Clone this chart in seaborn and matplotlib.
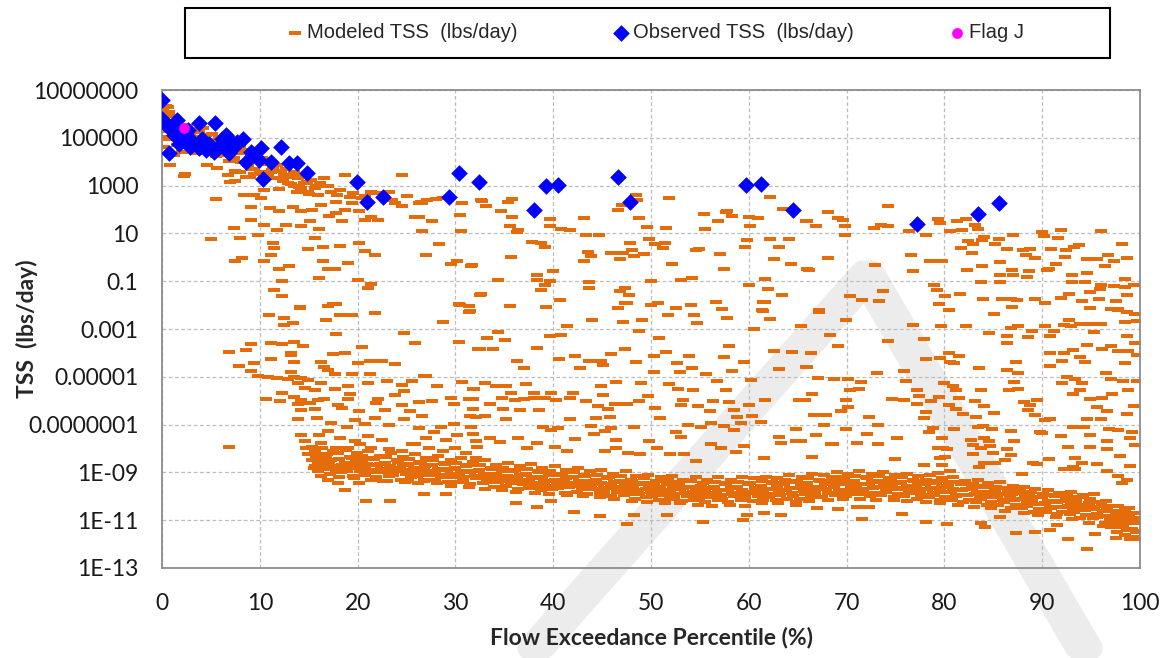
import numpy as np
import matplotlib
matplotlib.use('Agg')
import matplotlib.pyplot as plt
import seaborn as sns
from matplotlib.patches import Rectangle, PathPatch
from matplotlib.textpath import TextPath
from matplotlib.font_manager import FontProperties
from matplotlib.transforms import Affine2D

# --- values: x = flow exceedance (%), y = log10(TSS lbs/day) ---

# observed TSS (blue diamonds)
observed_pts = [
    (0.0, 6.57), (0.0, 5.8), (0.1, 5.67), (0.65, 5.46), (1.5, 5.74), (0.75, 4.35),
    (3.75, 5.64), (5.4, 5.64), (8.3, 4.94), (6.15, 4.97), (6.5, 5.1), (7.0, 4.9),
    (7.35, 4.63), (2.5, 5.1), (3.2, 4.83), (4.1, 4.97), (4.8, 4.76), (5.3, 4.42),
    (5.8, 4.63), (2.9, 4.63), (2.2, 4.97), (1.85, 5.25), (1.2, 5.1), (3.75, 4.56),
    (4.45, 4.49), (6.65, 4.56), (7.7, 4.83), (6.0, 4.76), (1.7, 4.76), (2.7, 5.32),
    (6.8, 4.35), (10.1, 4.58), (9.1, 4.42), (12.2, 4.6), (8.55, 3.97), (9.9, 4.07),
    (11.1, 4.0), (10.3, 3.26), (13.0, 3.96), (13.8, 3.96), (14.8, 3.54), (19.9, 3.13),
    (21.0, 2.33), (22.6, 2.54), (29.3, 2.54), (30.4, 3.54), (32.4, 3.17), (38.0, 1.99),
    (39.3, 2.99), (40.5, 3.03), (46.6, 3.35), (47.9, 2.33), (59.7, 3.03), (61.2, 3.07),
    (64.5, 1.99), (77.2, 1.38), (83.4, 1.8), (85.6, 2.27),
]

# flag J (magenta dot)
flag_pts = [(2.2, 5.42)]

# modeled TSS, high-flow head (0-28 %)
head_pts = [
    (0.1, 6.2), (0.4, 6.35), (0.7, 6.1), (0.2, 5.8), (0.9, 5.9), (0.3, 5.5), (1.1, 5.6),
    (0.6, 5.3), (1.4, 5.7), (0.2, 5.05), (0.8, 4.95), (0.1, 4.6), (1.6, 5.4), (1.9, 5.55),
    (2.2, 5.3), (2.6, 5.5), (2.9, 5.2), (3.2, 5.35), (3.5, 5.05), (3.8, 5.25), (4.2, 5.4),
    (4.5, 5.1), (4.8, 4.9), (5.1, 5.15), (5.4, 4.8), (5.8, 5.0), (6.1, 4.75), (6.5, 4.9),
    (6.9, 4.6), (7.2, 4.8), (7.6, 4.5), (8.0, 4.65), (8.3, 4.35), (8.7, 4.5), (9.1, 4.2),
    (9.5, 4.35), (9.8, 4.05), (10.2, 4.15), (10.6, 3.9), (11.0, 4.0), (11.4, 3.75),
    (11.8, 3.85), (12.2, 3.6), (12.7, 3.7), (13.1, 3.45), (13.5, 3.55), (13.9, 3.3),
    (14.3, 3.4), (14.8, 3.15), (15.2, 3.25), (15.7, 3.0), (16.2, 3.1), (1.5, 4.7),
    (2.4, 4.85), (3.1, 4.6), (3.9, 4.75), (4.4, 4.45), (5.2, 4.55), (6.0, 4.3), (6.7, 4.4),
    (7.4, 4.15), (8.1, 4.0), (8.8, 3.85), (9.4, 3.7), (10.0, 3.55), (10.8, 3.45),
    (11.5, 3.3), (12.4, 3.2), (13.2, 3.05), (14.0, 2.95), (1.2, 4.3), (2.0, 4.4),
    (7.5, 3.6), (9.0, 3.35), (12.0, 2.85), (13.8, 2.75), (15.0, 2.65), (16.0, 2.6),
    (11.2, 3.65), (12.9, 3.35), (14.5, 3.1), (5.5, 4.25), (6.8, 4.05), (3.5, 4.35),
    (4.6, 4.55), (17.0, 3.0), (18.2, 2.8), (19.5, 2.7), (20.8, 2.55), (22.0, 2.7),
    (23.5, 2.4), (25.0, 2.55), (26.5, 2.3), (28.0, 2.45),
]

# modeled TSS, scattered points 0-33 % above 0.01
early_pts = [
    (0.1, 6.2), (0.65, 6.3), (0.0, 5.8), (0.0, 5.05), (0.5, 4.97), (0.1, 4.6), (0.8, 3.86),
    (2.4, 3.5), (2.2, 3.4), (5.5, 2.43), (4.6, 3.86), (5.6, 3.72), (6.7, 3.44), (7.0, 3.17),
    (7.5, 3.2), (8.0, 3.58), (8.6, 3.37), (9.1, 3.7), (9.4, 3.5), (8.4, 2.6), (9.4, 2.6),
    (10.1, 2.47), (10.4, 2.8), (11.1, 3.58), (11.8, 3.3), (12.5, 3.44), (12.9, 3.1),
    (13.5, 3.0), (14.2, 2.9), (14.9, 2.75), (15.6, 2.9), (16.3, 3.0), (16.6, 3.3),
    (17.3, 2.75), (17.9, 2.6), (18.7, 3.44), (17.8, 2.33), (19.2, 2.54), (19.4, 2.26),
    (20.4, 2.47), (21.4, 2.75), (23.2, 2.75), (23.8, 2.26), (24.5, 3.44), (24.5, 2.13),
    (26.3, 2.26), (27.1, 2.4), (26.3, 1.7), (27.6, 1.5), (28.7, 2.47), (30.7, 2.26),
    (32.6, 2.4), (9.1, 1.57), (7.4, 1.22), (5.0, 0.76), (8.0, 0.8), (8.2, -0.03),
    (7.5, -0.17), (9.1, 2.1), (11.0, 2.06), (12.0, 1.92), (10.4, 1.36), (9.8, 0.94),
    (11.8, 1.15), (12.7, 1.36), (11.3, 0.6), (11.5, 0.4), (11.1, 0.08), (12.0, -0.49),
    (13.0, -0.35), (10.4, -0.17), (12.3, -1.0), (11.5, -1.37), (12.3, -1.62), (14.1, -2.08),
    (13.4, 2.1), (14.2, 1.92), (15.3, 2.0), (16.3, 2.2), (17.1, 1.74), (15.1, 1.5),
    (14.2, 1.3), (16.1, 1.18), (15.6, 0.8), (14.9, 0.35), (16.5, 0.43), (18.2, 0.49),
    (16.5, -0.17), (17.0, -0.49), (17.7, -0.49), (19.0, -0.24), (16.1, -0.86), (17.5, -1.97),
    (17.8, 1.85), (18.7, 2.0), (20.1, 1.92), (18.4, 1.5), (20.1, 0.6), (20.8, 0.25),
    (21.8, 0.08), (20.0, -0.93), (21.1, -1.3), (21.4, -1.1), (20.8, 1.57), (21.4, 1.67),
    (22.1, 1.57), (25.9, 1.67), (26.6, 2.26), (26.6, 1.08), (28.3, 0.56), (27.0, 0.1),
    (29.5, -0.28), (31.6, -0.35), (30.2, -0.17), (30.5, 1.78), (30.6, 1.08), (32.6, -1.53),
    (30.4, -1.97), (31.4, -2.04),
]

# modeled TSS, scattered points 0-33 % below 0.01
early_low_pts = [
    (14.1, -2.11), (17.0, -2.04), (17.8, -1.94), (10.9, -2.42), (12.5, -2.54), (12.5, -2.85),
    (13.4, -2.75), (16.8, -2.63), (18.2, -2.42), (19.4, -2.42), (21.8, -2.32), (17.8, -3.21),
    (24.7, -3.17), (28.7, -2.7), (30.5, -2.0), (31.4, -2.28), (30.4, -3.55), (32.3, -3.85),
    (6.9, -3.97), (8.6, -3.87), (9.1, -3.63), (11.1, -3.59), (12.3, -3.63), (13.5, -3.55),
    (14.4, -3.73), (13.2, -4.08), (13.2, -3.99), (7.9, -4.55), (9.1, -4.76), (9.4, -4.44),
    (11.1, -4.27), (13.5, -4.39), (17.5, -4.06), (18.7, -4.01), (20.4, -3.76), (20.0, -4.44),
    (21.3, -4.34), (22.5, -4.34), (23.8, -4.48), (25.9, -3.59), (16.3, -4.39), (16.6, -4.58),
    (17.0, -4.72), (17.7, -4.89), (19.4, -4.9), (21.3, -4.89), (27.0, -4.97),
    (9.8, -4.97), (10.8, -5.0), (11.8, -5.04), (12.9, -5.1), (13.5, -5.0), (14.2, -5.07),
    (14.9, -5.14), (13.2, -4.79), (13.9, -5.28), (14.6, -5.45), (15.6, -5.56), (16.3, -5.24),
    (10.6, -5.92), (12.1, -6.01), (12.3, -5.66), (13.5, -5.85), (14.2, -5.99), (13.9, -6.13),
    (15.1, -6.1), (15.9, -5.96), (16.6, -5.92), (15.6, -6.34), (14.2, -6.37), (17.7, -5.52),
    (19.0, -5.39), (19.2, -5.73), (19.0, -5.94), (18.0, -6.2), (18.4, -6.3), (20.1, -6.45),
    (21.1, -5.28), (23.0, -5.17), (24.5, -5.35), (25.6, -5.17), (26.8, -4.97), (24.7, -5.59),
    (23.8, -5.77), (22.1, -5.92), (21.9, -6.1), (22.8, -6.38), (24.5, -6.17), (25.4, -6.45),
    (26.3, -6.06), (27.6, -6.03), (28.1, -5.39), (29.5, -5.87), (29.9, -6.13), (31.4, -5.92),
    (31.8, -6.34), (31.9, -5.49), (30.7, -5.21), (13.9, -6.76), (15.8, -6.72), (17.3, -6.93),
    (18.9, -7.08), (19.7, -6.79), (20.8, -6.97), (21.8, -6.72), (23.2, -7.01), (24.7, -6.76),
    (26.6, -6.62), (26.3, -7.15), (28.5, -7.08), (29.9, -6.97), (31.6, -7.11), (32.1, -6.69),
    (6.9, -7.92), (14.2, -7.44), (16.1, -7.44), (17.0, -7.28), (18.2, -7.54), (19.7, -7.68),
    (21.1, -7.46), (22.5, -7.65), (25.6, -7.82), (27.0, -7.54), (27.8, -7.3), (29.0, -7.65),
    (30.2, -7.44), (32.1, -7.68), (14.6, -7.68), (14.7, -7.96), (14.9, -8.21), (15.3, -8.49),
    (15.6, -8.73), (15.3, -7.93), (16.3, -7.75), (17.8, -7.96), (19.0, -7.96), (20.2, -7.82),
    (21.4, -7.96), (23.2, -8.03), (24.5, -8.1), (25.9, -7.82), (27.3, -7.96), (28.7, -8.1),
    (30.0, -7.96), (31.1, -8.17), (32.1, -8.38),
]

# modeled TSS, scattered points 31-66 % above 0.01
mid_pts = [
    (32.7, 2.37), (33.1, 2.13), (35.4, 2.33), (35.8, 2.43), (34.7, 1.92), (35.8, 1.67),
    (35.6, 1.29), (36.4, 1.15), (36.3, 1.04), (37.8, 0.63), (38.8, 0.6), (39.2, 0.43),
    (39.7, 1.6), (39.7, 1.29), (40.8, 1.18), (41.7, 1.13), (43.2, 1.64), (43.4, 0.92),
    (44.7, 0.92), (35.7, 0.01), (31.7, -0.33), (43.6, 0.22), (43.9, 0.04), (43.1, -0.17),
    (45.9, 0.18), (46.8, -0.07), (47.1, 0.18), (47.9, 0.6), (48.1, 0.32), (48.3, 0.07),
    (49.3, 0.14), (48.5, 2.61), (48.6, 2.38), (46.6, 1.96), (47.0, 2.17), (48.8, 1.64),
    (49.6, 1.26), (49.8, 0.76), (50.4, 0.56), (51.4, 0.6), (51.2, 0.39), (51.8, 2.47),
    (51.5, 1.22), (52.1, -0.28), (50.0, -1.0), (38.3, -0.72), (40.0, -0.58), (39.7, -1.0),
    (39.2, -1.14), (34.4, -0.96), (38.3, -0.96), (38.8, -1.38), (32.5, -1.58), (35.6, -2.04),
    (39.3, -2.1), (40.7, -1.8), (43.7, -1.03), (43.7, -1.28), (47.3, -1.28), (46.8, -1.39),
    (47.8, -1.58), (47.3, -1.9), (46.6, -2.14), (50.0, -2.0), (50.7, -1.93), (52.6, -2.14),
    (54.1, -2.0), (53.1, -0.96), (54.2, -0.86), (54.6, 0.32), (54.9, 0.35), (55.4, 1.81),
    (55.5, 1.18), (56.8, 1.5), (57.1, 0.14), (57.5, -0.49), (57.7, 1.88), (57.8, 1.94),
    (58.3, 1.71), (60.0, 1.67), (60.1, 1.33), (59.8, 0.71), (59.6, 0.43), (60.9, 1.64),
    (62.2, 2.54), (63.5, 2.03), (65.8, 1.53), (62.2, 0.76), (63.1, 0.43), (64.1, 0.76),
    (62.6, -0.07), (64.3, -0.28), (65.9, -0.49), (61.7, -0.9), (62.0, -1.32), (63.4, -1.56),
    (61.7, -1.86), (60.0, -1.17), (56.6, -1.86), (57.3, -2.15), (61.4, -2.22),
]

# modeled TSS, scattered points 31-66 % below 0.01
mid_low_pts = [
    (40.7, -1.8), (47.5, -1.9), (61.5, -1.85), (61.5, -2.23), (31.5, -2.25), (44.0, -2.63),
    (47.1, -2.72), (49.1, -2.63), (51.7, -2.42), (54.4, -2.42), (54.7, -2.75), (57.8, -2.54),
    (62.2, -2.58), (41.4, -2.89), (48.8, -3.07), (65.3, -2.89), (60.5, -3.0), (34.4, -3.13),
    (33.2, -3.38), (35.1, -3.45), (32.5, -3.85), (33.8, -3.85), (38.3, -3.8), (39.7, -3.31),
    (40.8, -3.27), (36.3, -4.32), (37.0, -4.62), (40.6, -4.27), (42.2, -4.13), (42.7, -4.65),
    (43.7, -4.32), (44.9, -4.34), (45.1, -4.51), (45.9, -4.06), (47.3, -3.85), (48.5, -4.38),
    (50.8, -3.38), (50.3, -4.11), (51.5, -3.97), (52.7, -4.44), (53.9, -4.13), (54.2, -4.65),
    (55.6, -4.9), (53.0, -4.79), (50.3, -4.82), (58.0, -3.7), (57.5, -4.18), (58.3, -4.76),
    (59.5, -4.39), (62.6, -3.92), (64.4, -3.97), (63.1, -4.69), (65.8, -4.58),
    (31.8, -5.49), (33.0, -5.28), (34.2, -5.39), (35.2, -5.39), (37.2, -5.32), (35.7, -5.66),
    (38.0, -5.66), (39.8, -5.66), (42.0, -5.66), (34.8, -5.87), (36.1, -5.96), (37.0, -5.92),
    (38.0, -5.87), (39.2, -5.89), (40.3, -5.96), (41.7, -5.89), (43.4, -6.03), (31.8, -5.92),
    (33.5, -6.13), (34.9, -6.34), (36.6, -6.41), (38.5, -6.41), (33.0, -6.62), (35.2, -6.76),
    (31.5, -6.62), (44.6, -6.24), (45.6, -6.34), (46.3, -6.15), (47.5, -6.13), (44.9, -5.39),
    (45.1, -5.75), (46.4, -5.21), (49.0, -5.28), (48.8, -6.03), (49.7, -5.82), (50.4, -6.31),
    (51.8, -5.32), (52.8, -5.49), (53.3, -5.96), (53.1, -6.17), (54.3, -5.56), (54.8, -6.23),
    (56.0, -6.45), (56.3, -6.03), (56.7, -5.18), (57.7, -5.56), (58.0, -6.06), (58.5, -6.38),
    (60.0, -6.17), (58.8, -6.69), (60.3, -6.66), (61.7, -5.96), (60.2, -5.14), (65.1, -5.99),
    (41.7, -6.76), (44.4, -6.73), (45.8, -6.69), (50.9, -6.72), (43.9, -7.07), (48.3, -7.08),
    (39.0, -7.08), (39.8, -7.23), (40.5, -7.15), (44.2, -7.39), (45.3, -7.28), (45.9, -7.15),
    (42.2, -7.61), (46.4, -7.65), (52.6, -7.3), (53.1, -7.51), (53.8, -7.01), (55.1, -7.11),
    (56.1, -6.94), (57.5, -7.04), (58.5, -7.23), (59.2, -6.94), (61.2, -6.9), (63.1, -7.51),
    (64.8, -7.18), (36.4, -7.58), (38.3, -7.75), (37.3, -7.96), (40.2, -7.92), (41.4, -8.1),
    (31.8, -7.39), (32.2, -7.92), (33.5, -7.54), (34.6, -7.72), (49.8, -7.68), (50.6, -7.96),
    (51.9, -8.24), (53.4, -8.24), (54.6, -8.52), (56.1, -7.82), (57.2, -7.96), (58.7, -8.13),
    (59.5, -7.89), (61.6, -8.38), (63.3, -7.75), (64.8, -7.68), (45.3, -8.1), (46.4, -7.96),
    (47.6, -8.17), (48.9, -8.24),
]

# modeled TSS, scattered points 65-100 % above 0.01
late_pts = [
    (68.1, 1.9), (69.1, 1.64), (69.6, 1.55), (66.0, 1.52), (66.9, 1.31), (69.8, 1.31),
    (69.8, 0.94), (74.2, 2.15), (72.8, 1.24), (73.5, 1.36), (74.2, 1.29), (76.4, 1.1),
    (78.1, 0.94), (79.3, 1.62), (79.5, 1.44), (81.3, 1.52), (80.6, 1.1), (81.8, 1.15),
    (82.2, 1.62), (83.1, 1.36), (83.4, 1.19), (82.4, 0.67), (82.9, 0.57), (83.8, 0.73),
    (84.1, 0.85), (85.6, 0.78), (85.2, 0.57), (87.0, 0.92), (86.4, 0.36), (88.0, 0.29),
    (88.8, 0.36), (88.3, 0.1), (89.3, -0.04), (90.0, 1.05), (90.2, 0.89), (90.9, 0.36),
    (91.9, 1.15), (91.6, 0.82), (92.4, 0.29), (93.3, 0.43), (93.8, 0.53), (92.3, 0.03),
    (94.6, -0.06), (95.6, -0.06), (96.7, 0.08), (97.3, -0.16), (96.0, 1.1), (98.2, 0.57),
    (98.7, -0.02), (96.4, -0.38), (81.7, 0.4), (82.8, 0.18), (68.1, -0.02), (66.2, -0.52),
    (72.9, -0.31), (76.6, 0.1), (76.8, -0.58), (78.5, -0.17), (79.8, -0.17), (82.3, -0.52),
    (83.8, -0.37), (85.7, -0.2), (86.9, -0.52), (88.6, -0.58), (85.7, -0.74), (87.0, -0.74),
    (88.4, -0.81), (90.5, -0.55), (90.7, -0.49), (91.4, -0.27), (94.6, -0.66), (93.0, -0.74),
    (93.0, -1.05), (94.4, -1.05), (96.0, -1.15), (97.3, -1.22), (98.5, -0.9), (98.5, -1.25),
    (78.9, -1.14), (79.2, -1.36), (83.7, -1.04), (85.7, -1.04), (70.3, -1.63), (71.6, -1.79),
    (73.3, -1.84), (73.7, -1.42), (80.1, -1.63), (81.6, -1.53), (79.4, -1.95), (80.5, -2.19),
    (83.9, -1.74), (85.9, -1.74), (86.8, -1.74), (87.4, -1.79), (86.9, -2.09), (89.3, -1.74),
    (90.3, -1.91), (91.9, -1.7), (92.7, -1.53), (94.1, -1.81), (94.9, -1.46), (95.8, -1.74),
    (95.9, -1.32), (97.5, -1.81), (98.7, -1.57), (99.4, -1.15), (97.7, -2.2), (94.9, -2.13),
    (85.1, -2.37), (67.2, -2.27),
]

# modeled TSS, scattered points 65-100 % below 0.01
late_low_pts = [
    (67.2, -2.21), (69.9, -2.63), (65.3, -2.89), (68.3, -3.27), (69.1, -3.73), (66.4, -4.01),
    (66.0, -4.58), (67.1, -5.03), (68.7, -5.11), (70.1, -5.11), (71.5, -5.21), (71.3, -5.49),
    (70.3, -5.54), (66.5, -5.7), (65.7, -5.99), (66.7, -6.59), (67.9, -6.59), (67.7, -7.0),
    (69.4, -6.44), (69.9, -5.99), (70.1, -6.27), (72.3, -6.69), (73.2, -7.01), (69.9, -7.18),
    (66.9, -7.44), (72.1, -7.39), (68.6, -7.82), (73.2, -7.82), (71.1, -7.77), (65.3, -7.68),
    (66.5, -8.35), (74.2, -3.49), (73.1, -4.86), (75.9, -4.76), (76.1, -5.18), (74.6, -5.92),
    (75.9, -5.96), (77.4, -5.82), (77.2, -5.56), (76.8, -2.85), (77.9, -3.42), (78.1, -4.27),
    (79.6, -4.23), (79.7, -2.86), (80.5, -4.01), (81.5, -4.11), (81.0, -4.44), (80.0, -5.25),
    (80.9, -5.39), (81.2, -5.56), (77.2, -6.13), (78.6, -6.01), (79.4, -5.85), (80.5, -6.2),
    (81.5, -5.87), (81.2, -6.34), (81.9, -6.55), (83.1, -6.01), (84.1, -6.24), (85.1, -6.52),
    (83.7, -5.56), (83.2, -6.69), (83.4, -7.11), (83.9, -7.04), (84.9, -7.18), (84.1, -7.56),
    (84.6, -7.68), (82.7, -7.65), (82.9, -7.85), (82.9, -8.21), (83.7, -7.96), (84.7, -7.89),
    (85.0, -8.17), (86.8, -7.25), (87.1, -7.68), (86.4, -8.03), (86.8, -8.27), (78.1, -6.48),
    (77.9, -6.72), (78.8, -7.14), (78.4, -7.32), (81.0, -7.18), (79.8, -7.54), (79.3, -7.96),
    (80.3, -8.03), (80.1, -8.35), (77.9, -8.69), (79.8, -8.69), (80.6, -8.94), (80.6, -4.37),
    (82.2, -2.89), (83.5, -4.65), (84.6, -3.17), (86.4, -3.31), (86.4, -3.59), (86.8, -2.96),
    (87.5, -2.89), (88.5, -3.35), (89.0, -3.1), (90.3, -2.89), (86.4, -4.72), (87.5, -4.83),
    (87.3, -4.37), (87.1, -5.21), (86.6, -5.56), (87.5, -5.49), (88.1, -6.06), (88.5, -6.41),
    (88.8, -6.2), (89.3, -6.59), (89.5, -5.99), (90.3, -6.8), (90.8, -6.76), (89.8, -7.32),
    (90.0, -7.35), (90.8, -3.31), (91.2, -3.07), (92.2, -2.85), (92.9, -2.86), (92.7, -2.61),
    (93.9, -2.77), (94.9, -2.79), (96.0, -2.79), (97.0, -2.18), (97.8, -2.15), (98.7, -2.28),
    (99.5, -2.37), (98.5, -2.7), (99.7, -2.68), (95.3, -3.13), (98.7, -3.31), (99.5, -3.59),
    (90.8, -4.01), (92.2, -4.01), (93.2, -3.87), (94.6, -3.69), (96.1, -3.83), (97.0, -3.73),
    (97.7, -3.94), (98.8, -3.94), (99.7, -4.08), (92.0, -4.34), (93.9, -4.18), (94.4, -4.37),
    (98.5, -4.44), (90.8, -4.55), (92.5, -5.0), (93.4, -5.1), (94.1, -5.25), (96.5, -4.83),
    (97.0, -5.11), (98.3, -5.17), (99.7, -5.18), (92.0, -5.25), (93.9, -5.54), (93.2, -5.7),
    (94.9, -5.94), (96.1, -5.89), (97.1, -5.7), (98.8, -5.54), (95.6, -6.27), (96.6, -6.45),
    (99.4, -6.24), (98.7, -6.55), (94.6, -6.76), (96.0, -6.76), (93.2, -7.11), (94.3, -7.08),
    (96.8, -7.18), (97.7, -7.23), (99.2, -7.32), (91.9, -7.46), (94.9, -7.44), (96.6, -7.68),
    (99.0, -7.58), (99.5, -7.85), (92.6, -7.93), (94.9, -7.93), (96.6, -8.03), (98.0, -8.31),
    (93.4, -8.38), (94.1, -8.59), (93.2, -8.77), (95.6, -8.66), (96.6, -8.94), (97.8, -9.15),
    (98.7, -9.3), (99.0, -8.73), (98.2, -9.44), (68.4, -7.82), (75.2, -7.54), (74.9, -8.45),
    (79.6, -8.38), (79.9, -7.96), (79.3, -9.04), (83.5, -8.76), (84.1, -8.62), (85.2, -8.62),
    (86.2, -8.49), (87.9, -9.08), (89.5, -8.66), (89.1, -8.59), (90.7, -8.45), (92.2, -8.85),
    (93.4, -8.87),
]

# modeled TSS, dense low-flow band (rows read across the band)
band1_x = [15.2, 16.4, 17.5, 18.8, 19.9, 21.1, 22.3, 23.4, 24.6, 25.9, 27.0, 28.2, 29.5, 30.6,
           31.8, 33.0, 34.1, 35.4, 36.6, 37.7, 38.9, 40.2, 41.3, 42.5, 43.8, 44.9, 46.1, 47.4,
           48.5, 49.7, 51.0, 52.1, 53.3, 54.6, 55.7, 56.9, 58.2, 59.3, 60.5, 61.8, 62.9, 64.1,
           65.4, 66.5, 67.7, 69.0, 70.1, 71.3, 72.6, 73.7, 74.9, 76.2, 77.3, 78.5, 79.8, 80.9,
           82.1, 83.4, 84.5, 85.7, 87.0, 88.1, 89.3, 90.6, 91.7, 92.9, 94.2, 95.3, 96.5, 97.8, 98.9]
band1_log = [-8.0, -8.0, -8.1, -8.05, -8.2, -8.1, -8.3, -8.2, -8.35, -8.25, -8.4, -8.3, -8.5, -8.4,
             -8.55, -8.5, -8.7, -8.6, -8.75, -8.65, -8.8, -8.75, -8.9, -8.8, -8.95, -8.9, -9.05,
             -8.95, -9.15, -9.1, -9.2, -9.15, -9.3, -9.2, -9.3, -9.2, -9.3, -9.2, -9.25, -9.2,
             -9.25, -9.1, -9.2, -9.05, -9.1, -9.0, -9.05, -8.95, -9.05, -9.0, -9.1, -9.05, -9.15,
             -9.1, -9.25, -9.2, -9.35, -9.3, -9.45, -9.4, -9.55, -9.6, -9.7, -9.75, -9.85, -9.8,
             -9.95, -9.9, -10.2, -10.4, -10.5]
band2_x = [15.7, 16.8, 18.1, 19.4, 20.5, 21.7, 22.8, 24.1, 25.2, 26.3, 27.6, 28.9, 30.0, 31.1,
           32.4, 33.7, 34.8, 35.9, 37.2, 38.5, 39.6, 40.7, 42.0, 43.3, 44.4, 45.5, 46.8, 48.1,
           49.2, 50.3, 51.6, 52.9, 54.0, 55.1, 56.4, 57.7, 58.8, 59.9, 61.2, 62.5, 63.6, 64.7,
           66.0, 67.3, 68.4, 69.5, 70.8, 72.1, 73.2, 74.3, 75.6, 76.9, 78.0, 79.1, 80.4, 81.7,
           82.8, 83.9, 85.2, 86.5, 87.6, 88.7, 90.0, 91.3, 92.4, 93.5, 94.8, 96.1, 97.2, 98.3, 99.5]
band2_log = [-8.3, -8.3, -8.45, -8.4, -8.5, -8.45, -8.6, -8.55, -8.65, -8.6, -8.7, -8.65, -8.8,
             -8.75, -8.9, -8.85, -8.95, -8.95, -9.05, -9.0, -9.1, -9.1, -9.2, -9.15, -9.3, -9.25,
             -9.35, -9.35, -9.45, -9.45, -9.5, -9.5, -9.6, -9.55, -9.6, -9.5, -9.6, -9.5, -9.55,
             -9.45, -9.5, -9.4, -9.45, -9.35, -9.35, -9.3, -9.35, -9.25, -9.35, -9.3, -9.4, -9.35,
             -9.5, -9.45, -9.55, -9.5, -9.65, -9.6, -9.75, -9.75, -9.85, -9.9, -10.05, -10.0,
             -10.15, -10.2, -10.3, -10.4, -10.6, -10.75, -10.9]
band3_x = [16.0, 17.1, 18.4, 19.6, 20.8, 22.0, 23.1, 24.3, 25.6, 26.8, 27.9, 29.1, 30.4, 31.5,
           32.7, 33.9, 35.1, 36.3, 37.5, 38.6, 39.9, 41.1, 42.2, 43.5, 44.6, 45.9, 47.1, 48.2,
           49.5, 50.7, 51.9, 53.0, 54.3, 55.5, 56.6, 57.9, 59.1, 60.2, 61.5, 62.7, 63.8, 65.1,
           66.3, 67.4, 68.7, 69.9, 71.0, 72.3, 73.5, 74.6, 75.9, 77.1, 78.2, 79.5, 80.7, 81.8,
           83.1, 84.3, 85.4, 86.7, 87.9, 89.0, 90.3, 91.5, 92.6, 93.9, 95.1, 96.2, 97.5, 98.6, 99.7]
band3_log = [-8.6, -8.55, -8.7, -8.65, -8.75, -8.7, -8.85, -8.8, -8.9, -8.85, -8.95, -8.9, -9.05,
             -9.0, -9.15, -9.1, -9.25, -9.2, -9.3, -9.25, -9.35, -9.35, -9.45, -9.4, -9.5, -9.5,
             -9.6, -9.6, -9.7, -9.7, -9.75, -9.7, -9.8, -9.8, -9.85, -9.75, -9.85, -9.8, -9.8,
             -9.7, -9.75, -9.65, -9.7, -9.6, -9.6, -9.5, -9.55, -9.5, -9.6, -9.55, -9.65, -9.6,
             -9.7, -9.7, -9.8, -9.75, -9.9, -9.85, -10.0, -10.0, -10.1, -10.15, -10.3, -10.25,
             -10.4, -10.4, -10.55, -10.6, -10.8, -10.95, -11.1]
band4_x = [15.5, 16.7, 17.8, 18.9, 20.2, 21.4, 22.5, 23.6, 24.9, 26.1, 27.2, 28.5, 29.7, 30.8,
           32.1, 33.3, 34.4, 35.7, 36.9, 38.0, 39.3, 40.5, 41.6, 42.9, 44.1, 45.2, 46.5, 47.7,
           48.8, 50.1, 51.3, 52.4, 53.7, 54.9, 56.0, 57.3, 58.5, 59.6, 60.9, 62.1, 63.2, 64.5,
           65.7, 66.8, 68.1, 69.3, 70.4, 71.7, 72.9, 74.0, 75.3, 76.5, 77.6, 78.9, 80.1, 81.2,
           82.5, 83.7, 84.8, 86.1, 87.3, 88.4, 89.7, 90.9, 92.0, 93.3, 94.5, 95.6, 96.9, 98.1, 99.2]
band4_log = [-8.8, -8.85, -8.9, -8.95, -8.95, -9.0, -9.0, -9.1, -9.05, -9.15, -9.1, -9.2, -9.2,
             -9.3, -9.25, -9.4, -9.4, -9.45, -9.5, -9.55, -9.55, -9.65, -9.6, -9.7, -9.7, -9.8,
             -9.8, -9.9, -9.9, -10.0, -9.95, -10.05, -10.0, -10.1, -10.05, -10.1, -10.0, -10.1,
             -10.0, -10.05, -9.95, -10.0, -9.9, -9.9, -9.85, -9.85, -9.8, -9.8, -9.85, -9.8, -9.9,
             -9.85, -9.95, -9.95, -10.05, -10.0, -10.15, -10.1, -10.25, -10.25, -10.35, -10.4,
             -10.55, -10.5, -10.65, -10.65, -10.8, -10.85, -11.0, -11.2, -11.35]
band5_x = [16.3, 18.1, 19.6, 21.4, 23.0, 24.8, 26.2, 28.1, 29.6, 31.4, 33.0, 34.8, 36.2, 38.1,
           39.6, 41.4, 43.0, 44.8, 46.2, 48.1, 49.6, 51.4, 53.0, 54.8, 56.2, 58.1, 59.6, 61.4,
           63.0, 64.8, 66.2, 68.1, 69.6, 71.4, 73.0, 74.8, 76.2, 78.1, 79.6, 81.4, 83.0, 84.8,
           86.2, 88.1, 89.6, 91.4, 93.0, 94.8, 96.2, 97.6, 98.5, 99.4]
band5_log = [-9.15, -9.2, -9.25, -9.3, -9.35, -9.4, -9.45, -9.45, -9.55, -9.6, -9.7, -9.75, -9.8,
             -9.85, -9.9, -9.95, -10.0, -10.05, -10.1, -10.2, -10.25, -10.3, -10.3, -10.35, -10.4,
             -10.35, -10.4, -10.3, -10.3, -10.25, -10.2, -10.15, -10.1, -10.1, -10.15, -10.15,
             -10.2, -10.25, -10.3, -10.35, -10.45, -10.5, -10.6, -10.7, -10.8, -10.85, -10.95,
             -11.1, -11.25, -11.5, -11.6, -11.7]
band6_x = [16.2, 17.3, 18.7, 19.8, 21.0, 22.3, 23.3, 24.6, 25.8, 26.9, 28.2, 29.3, 30.6, 31.8,
           32.9, 34.2, 35.3, 36.6, 37.8, 38.9, 40.2, 41.3, 42.6, 43.8, 44.9, 46.2, 47.3, 48.6,
           49.8, 50.9, 52.2, 53.3, 54.6, 55.8, 56.9, 58.2, 59.3, 60.6, 61.8, 62.9, 64.2, 65.3,
           66.6, 67.8, 68.9, 70.2, 71.3, 72.6, 73.8, 74.9, 76.2, 77.3, 78.6, 79.8, 80.9, 82.2,
           83.3, 84.6, 85.8, 86.9, 88.2, 89.3, 90.6, 91.8, 92.9, 94.2, 95.3, 96.6, 97.8, 98.9, 99.9]
band6_log = [-8.45, -8.5, -8.6, -8.55, -8.65, -8.65, -8.75, -8.7, -8.8, -8.75, -8.85, -8.85,
             -8.95, -8.95, -9.05, -9.05, -9.15, -9.1, -9.2, -9.2, -9.3, -9.25, -9.35, -9.35,
             -9.45, -9.4, -9.5, -9.5, -9.6, -9.6, -9.65, -9.65, -9.7, -9.65, -9.75, -9.65, -9.75,
             -9.65, -9.7, -9.6, -9.65, -9.55, -9.6, -9.5, -9.5, -9.4, -9.5, -9.4, -9.5, -9.45,
             -9.55, -9.5, -9.65, -9.6, -9.7, -9.7, -9.8, -9.8, -9.9, -9.9, -10.05, -10.05, -10.2,
             -10.2, -10.3, -10.35, -10.45, -10.55, -10.8, -10.85, -11.0]
band7_x = [15.9, 17.2, 18.3, 19.5, 20.8, 21.9, 23.2, 24.4, 25.5, 26.8, 27.9, 29.2, 30.4, 31.5,
           32.8, 33.9, 35.2, 36.4, 37.5, 38.8, 39.9, 41.2, 42.4, 43.5, 44.8, 45.9, 47.2, 48.4,
           49.5, 50.8, 51.9, 53.2, 54.4, 55.5, 56.8, 57.9, 59.2, 60.4, 61.5, 62.8, 63.9, 65.2,
           66.4, 67.5, 68.8, 69.9, 71.2, 72.4, 73.5, 74.8, 75.9, 77.2, 78.4, 79.5, 80.8, 81.9,
           83.2, 84.4, 85.5, 86.8, 87.9, 89.2, 90.4, 91.5, 92.8, 93.9, 95.2, 96.4, 97.5, 98.7, 99.6]
band7_log = [-8.95, -9.05, -9.0, -9.15, -9.1, -9.2, -9.15, -9.3, -9.2, -9.35, -9.3, -9.4, -9.4,
             -9.5, -9.45, -9.6, -9.55, -9.7, -9.65, -9.75, -9.7, -9.85, -9.8, -9.9, -9.85, -10.0,
             -9.95, -10.1, -10.05, -10.15, -10.1, -10.2, -10.15, -10.25, -10.15, -10.25, -10.15,
             -10.2, -10.15, -10.15, -10.1, -10.1, -10.05, -10.05, -9.95, -10.0, -9.9, -10.0, -9.95,
             -10.05, -10.0, -10.1, -10.05, -10.15, -10.15, -10.25, -10.25, -10.35, -10.35, -10.5,
             -10.5, -10.65, -10.65, -10.75, -10.75, -10.9, -10.9, -11.1, -11.15, -11.4, -11.5]
band8_x = [15.6, 16.9, 18.0, 19.2, 20.4, 21.7, 22.9, 24.0, 25.3, 26.5, 27.7, 28.8, 30.1, 31.3,
           32.5, 33.6, 34.9, 36.1, 37.3, 38.4, 39.7, 40.9, 42.1, 43.2, 44.5, 45.7, 46.9, 48.0,
           49.3, 50.5, 51.7, 52.8, 54.1, 55.3, 56.5, 57.6, 58.9, 60.1, 61.3, 62.4, 63.7, 64.9,
           66.1, 67.2, 68.5, 69.7, 70.9, 72.0, 73.3, 74.5, 75.7, 76.8, 78.1, 79.3, 80.5, 81.6,
           82.9, 84.1, 85.3, 86.4, 87.7, 88.9, 90.1, 91.2, 92.5, 93.7, 94.9, 96.0, 97.3, 98.5, 99.6]
band8_log = [-8.15, -8.25, -8.2, -8.35, -8.3, -8.4, -8.35, -8.5, -8.45, -8.55, -8.5, -8.6, -8.6,
             -8.7, -8.7, -8.8, -8.8, -8.9, -8.85, -8.95, -8.95, -9.05, -9.0, -9.1, -9.1, -9.2,
             -9.15, -9.3, -9.25, -9.35, -9.3, -9.4, -9.35, -9.45, -9.4, -9.45, -9.4, -9.45, -9.35,
             -9.4, -9.3, -9.35, -9.25, -9.3, -9.2, -9.2, -9.15, -9.2, -9.15, -9.25, -9.2, -9.3,
             -9.3, -9.35, -9.4, -9.4, -9.5, -9.55, -9.6, -9.65, -9.75, -9.8, -9.9, -9.95, -10.0,
             -10.05, -10.1, -10.25, -10.4, -10.55, -10.7]
band9_x = [16.4, 17.6, 18.8, 19.9, 21.2, 22.4, 23.6, 24.7, 26.0, 27.2, 28.4, 29.5, 30.8, 32.0,
           33.2, 34.3, 35.6, 36.8, 38.0, 39.1, 40.4, 41.6, 42.8, 43.9, 45.2, 46.4, 47.6, 48.7,
           50.0, 51.2, 52.4, 53.5, 54.8, 56.0, 57.2, 58.3, 59.6, 60.8, 62.0, 63.1, 64.4, 65.6,
           66.8, 67.9, 69.2, 70.4, 71.6, 72.7, 74.0, 75.2, 76.4, 77.5, 78.8, 80.0, 81.2, 82.3,
           83.6, 84.8, 86.0, 87.1, 88.4, 89.6, 90.8, 91.9, 93.2, 94.4, 95.6, 96.7, 97.9, 99.0]
band9_log = [-8.7, -8.72, -8.82, -8.8, -8.88, -8.86, -8.97, -8.93, -9.02, -9.0, -9.1, -9.08,
             -9.18, -9.17, -9.27, -9.26, -9.36, -9.35, -9.43, -9.42, -9.5, -9.49, -9.58, -9.56,
             -9.66, -9.65, -9.75, -9.74, -9.84, -9.82, -9.9, -9.86, -9.95, -9.9, -9.95, -9.9,
             -9.94, -9.88, -9.9, -9.83, -9.85, -9.77, -9.78, -9.7, -9.72, -9.65, -9.7, -9.65,
             -9.72, -9.7, -9.78, -9.77, -9.85, -9.84, -9.95, -9.93, -10.03, -10.04, -10.15,
             -10.17, -10.3, -10.32, -10.43, -10.45, -10.55, -10.57, -10.72, -10.82, -11.0, -11.1]

# modeled TSS, points under the band and the 97-100 % clump
band_low_pts = [
    (17.0, -9.32), (18.0, -9.46), (18.7, -9.72), (20.1, -9.46), (22.6, -9.37), (25.2, -9.34),
    (26.8, -9.89), (29.0, -9.89), (20.9, -10.18), (23.3, -10.18), (26.8, -9.32),
    (36.2, -10.28), (38.3, -10.45), (39.8, -10.21), (42.1, -10.66), (44.8, -10.82),
    (47.5, -11.17), (48.3, -10.77), (51.6, -10.77), (55.3, -11.06), (59.4, -10.99),
    (59.8, -10.77), (61.6, -10.7), (63.3, -10.77), (64.8, -10.35), (69.1, -10.54),
    (67.0, -10.49), (71.1, -10.46), (72.3, -10.46), (71.6, -10.94), (75.7, -10.73),
    (78.1, -11.06), (80.3, -11.17), (84.2, -11.3), (87.3, -11.55), (89.3, -11.48),
    (90.8, -11.41), (92.6, -11.79), (94.6, -12.21), (95.4, -11.58), (97.5, -11.73),
    (99.0, -11.79), (83.7, -11.13), (85.7, -10.85), (91.5, -11.2), (97.3, -10.9),
    (97.9, -11.05), (98.3, -11.3), (98.8, -11.4), (99.3, -11.0), (99.6, -11.45),
    (99.1, -10.7), (98.0, -10.6), (97.0, -11.3), (99.8, -11.8),
]

y_tick_labels = ['1E-13', '1E-11', '1E-09', '0.0000001', '0.00001', '0.001', '0.1',
                 '10', '1000', '100000', '10000000']
legend_labels = ['Modeled TSS  (lbs/day)', 'Observed TSS  (lbs/day)', 'Flag J']

ORANGE = '#E46C0A'
BLUE = '#0000FF'
MAGENTA = '#FF00FF'

# --- assemble modeled series ---
pt_groups = [head_pts, early_pts, early_low_pts, mid_pts, mid_low_pts, late_pts,
             late_low_pts, band_low_pts]
mod_x = [p[0] for g in pt_groups for p in g]
mod_log = [p[1] for g in pt_groups for p in g]
band_rows = [(band1_x, band1_log), (band2_x, band2_log), (band3_x, band3_log),
             (band4_x, band4_log), (band5_x, band5_log), (band6_x, band6_log),
             (band7_x, band7_log), (band8_x, band8_log), (band9_x, band9_log)]
for bx, by in band_rows:
    mod_x += bx
    mod_log += by
mod_y = 10.0 ** np.array(mod_log)

obs_x = [p[0] for p in observed_pts]
obs_y = 10.0 ** np.array([p[1] for p in observed_pts])
flag_x = [p[0] for p in flag_pts]
flag_y = 10.0 ** np.array([p[1] for p in flag_pts])

# --- plot ---
sns.set_style('white')
plt.rcParams['font.family'] = ['Lato', 'DejaVu Sans']

fig = plt.figure(figsize=(11.65, 6.58), dpi=100)
ax = fig.add_axes([0.13906, 0.13678, 0.83948, 0.72644])

dash = [(-1, -0.42), (1, -0.42), (1, 0.42), (-1, 0.42), (-1, -0.42)]
sns.scatterplot(x=mod_x, y=mod_y, ax=ax, marker=dash, s=68, color=ORANGE,
                linewidth=0, label=legend_labels[0], zorder=2)
sns.scatterplot(x=obs_x, y=obs_y, ax=ax, marker='D', s=72, color=BLUE,
                linewidth=0, label=legend_labels[1], zorder=3)
sns.scatterplot(x=flag_x, y=flag_y, ax=ax, marker='o', s=60, color=MAGENTA,
                linewidth=0, label=legend_labels[2], zorder=4)

ax.set_yscale('log')
ax.set_xlim(0, 100)
ax.set_ylim(1e-13, 1e7)
ax.set_xticks(range(0, 101, 10))
yt = [10.0 ** e for e in range(-13, 8, 2)]
ax.set_yticks(yt)
ax.set_yticklabels(y_tick_labels)
ax.yaxis.set_minor_locator(matplotlib.ticker.NullLocator())

ax.set_axisbelow(True)
ax.grid(True, which='major', color='#BDBDBD', linestyle=(0, (3, 2)), linewidth=0.9)
for sp in ax.spines.values():
    sp.set_color('#8C8C8C')
    sp.set_linewidth(1.3)

ax.tick_params(axis='y', direction='out', length=7, width=1.2, color='#8C8C8C',
               labelsize=16.5, pad=10, labelcolor='#1a1a1a')
ax.tick_params(axis='x', direction='inout', length=12, width=1.2, color='#8C8C8C',
               labelsize=16.5, pad=12, labelcolor='#1a1a1a')

ax.set_xlabel('Flow Exceedance Percentile (%)', fontsize=16.5, fontweight='bold', labelpad=9)
ax.set_ylabel('TSS  (lbs/day)', fontsize=16.5, fontweight='bold')
ax.yaxis.set_label_coords(-0.127, 0.5)

# watermark glyph (thin face, widened with a rounded outline), kept behind the axis text
wm = TextPath((0, 0), '\u039b', size=1, prop=FontProperties(family='Lato', weight='light'))
ext = wm.get_extents()
sx = 560 / ext.width
sy = 375 / ext.height
wm_tr = (Affine2D().translate(-ext.x0, -ext.y0).scale(sx, sy)
         .skew_deg(8.7, 0).translate(530, 10))
ax.add_patch(PathPatch(wm, transform=wm_tr, facecolor='#ECECEC', edgecolor='#ECECEC',
                       linewidth=18, joinstyle='round', capstyle='round',
                       zorder=0.3, clip_on=False))

# legend in a boxed strip above the plot
handles, labels = ax.get_legend_handles_labels()
if ax.get_legend() is not None:
    ax.get_legend().remove()
fig.legend(handles, labels, loc='center', bbox_to_anchor=(655 / 1165, 1 - 33 / 658),
           ncol=3, frameon=False, columnspacing=4.7, handletextpad=0.15, handlelength=0.9,
           scatterpoints=1, prop=FontProperties(family='Liberation Sans', size=14.5))
fig.add_artist(Rectangle((185 / 1165, 1 - 58 / 658), 925 / 1165, 50 / 658,
                         transform=fig.transFigure, fill=False, edgecolor='black',
                         linewidth=1.5))

fig.savefig('out.png', dpi=100, facecolor='white')
